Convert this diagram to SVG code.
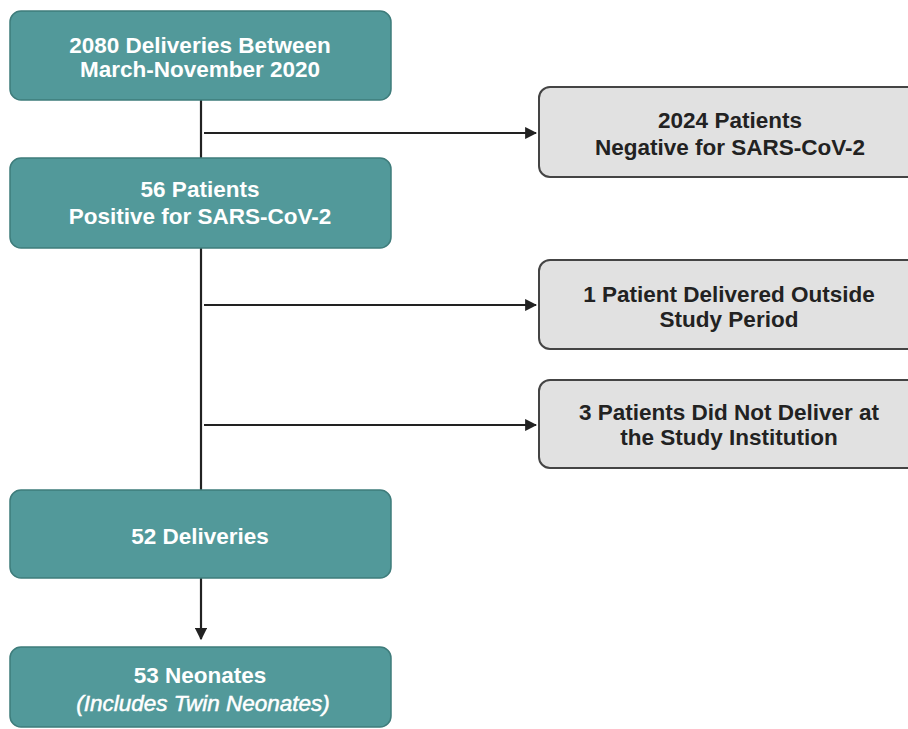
<svg xmlns="http://www.w3.org/2000/svg" width="908" height="729" viewBox="0 0 908 729">
<defs>
<marker id="ah" viewBox="0 0 10 10" refX="9" refY="5" markerWidth="5.5" markerHeight="5.5" orient="auto" markerUnits="strokeWidth">
<path d="M0,0 L10,5 L0,10 z" fill="#222"/>
</marker>
<style>
.teal{fill:#52999a;stroke:#3e7c7b;stroke-width:1.5}
.gray{fill:#e1e1e1;stroke:#444;stroke-width:2}
.tw{font-family:"Liberation Sans",Arial,sans-serif;font-weight:bold;font-size:22.5px;fill:#fff;text-anchor:middle}
.tg{font-family:"Liberation Sans",Arial,sans-serif;font-weight:bold;font-size:22.5px;fill:#222;text-anchor:middle}
.it{font-style:italic;font-weight:normal;stroke:#fff;stroke-width:0.5}
.ln{stroke:#222;stroke-width:2.2;fill:none}
</style>
</defs>
<rect width="908" height="729" fill="#fff"/>
<g id="connectors">
<line class="ln" x1="201" y1="100" x2="201" y2="158"/>
<line class="ln" x1="201" y1="248" x2="201" y2="490"/>
<line class="ln" x1="201" y1="578" x2="201" y2="639" marker-end="url(#ah)"/>
<line class="ln" x1="204" y1="133" x2="536" y2="133" marker-end="url(#ah)"/>
<line class="ln" x1="204" y1="305" x2="536" y2="305" marker-end="url(#ah)"/>
<line class="ln" x1="204" y1="425" x2="536" y2="425" marker-end="url(#ah)"/>
</g>
<g id="n1">
<rect class="teal" x="10" y="11" width="381" height="89" rx="11"/>
<text class="tw" x="200" y="53">2080 Deliveries Between</text>
<text class="tw" x="200" y="77">March-November 2020</text>
</g>
<g id="n2">
<rect class="teal" x="10" y="158" width="381" height="90" rx="11"/>
<text class="tw" x="200" y="197">56 Patients</text>
<text class="tw" x="200" y="224">Positive for SARS-CoV-2</text>
</g>
<g id="n3">
<rect class="gray" x="539" y="87" width="380" height="90" rx="11"/>
<text class="tg" x="730" y="128">2024 Patients</text>
<text class="tg" x="730" y="155">Negative for SARS-CoV-2</text>
</g>
<g id="n4">
<rect class="gray" x="539" y="260" width="380" height="89" rx="11"/>
<text class="tg" x="729" y="302">1 Patient Delivered Outside</text>
<text class="tg" x="729" y="327">Study Period</text>
</g>
<g id="n5">
<rect class="gray" x="539" y="380" width="380" height="88" rx="11"/>
<text class="tg" x="729" y="420">3 Patients Did Not Deliver at</text>
<text class="tg" x="729" y="445">the Study Institution</text>
</g>
<g id="n6">
<rect class="teal" x="10" y="490" width="381" height="88" rx="11"/>
<text class="tw" x="200" y="544">52 Deliveries</text>
</g>
<g id="n7">
<rect class="teal" x="10" y="647" width="381" height="80" rx="11"/>
<text class="tw" x="200" y="683">53 Neonates</text>
<text class="tw it" x="203" y="711">(Includes Twin Neonates)</text>
</g>
</svg>
